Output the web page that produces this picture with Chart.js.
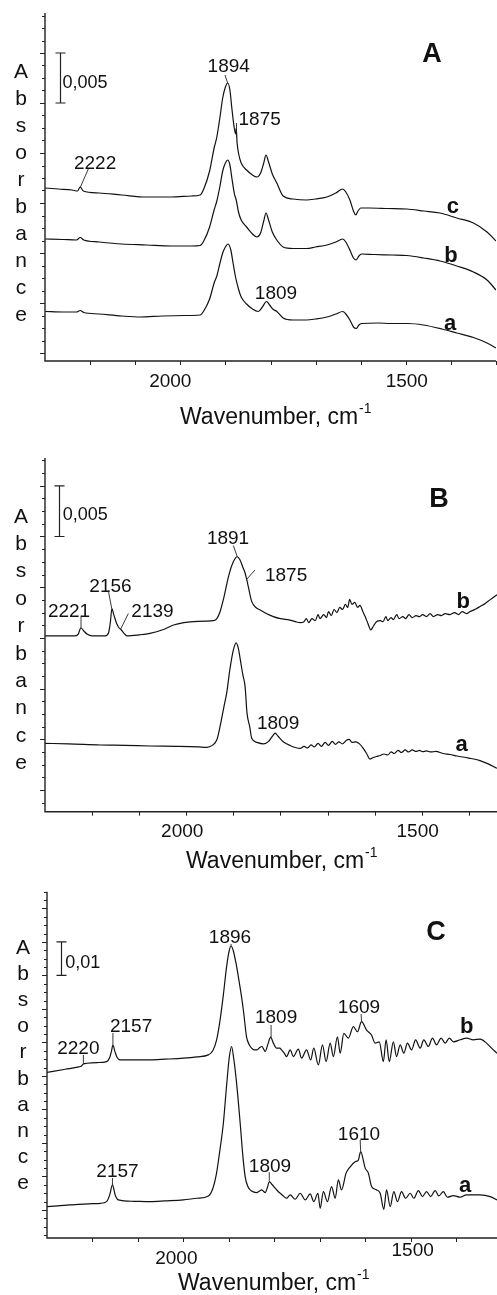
<!DOCTYPE html>
<html>
<head>
<meta charset="utf-8">
<script src="https://cdn.jsdelivr.net/npm/chart.js@4.4.0/dist/chart.umd.min.js"></script>
<style>
  body { margin: 0; background: #fff; width: 497px; height: 1295px; position: relative; overflow: hidden; }
  canvas { position: absolute; left: 0; }
</style>
</head>
<body>
<canvas id="chartA" width="497" height="440" style="top:0"></canvas>
<canvas id="chartB" width="497" height="435" style="top:440px"></canvas>
<canvas id="chartC" width="497" height="420" style="top:875px"></canvas>
<script>
// absorbance values are in mA (10^-3 absorbance units), wavenumbers in cm-1

// ---- panel A ----
const waveA_c = [2300,2270,2240,2228,2222,2215,2180,2130,2075,2020,1975,1956,1948,1935,1925,1919,1912,1906,1900,1895,1890,1886,1880,1877,1876,1874,1871,1865,1853,1840,1830,1822,1815,1810,1805,1796,1786,1772,1750,1720,1700,1675,1655,1640,1633,1624,1616,1611,1606,1600,1580,1540,1498,1460,1424,1387,1350,1320,1300];
const absA_c  = [16.5,16.4,16.3,16.2,16.6,16.2,16.0,15.8,15.6,15.6,15.7,15.8,16.4,18.2,20.5,21.6,23.6,25.5,26.6,27.0,26.3,24.6,22.4,21.9,22.5,21.0,20.0,19.0,18.3,17.8,17.6,18.0,19.0,19.8,19.2,17.9,17.0,15.7,15.4,15.3,15.4,15.6,16.0,16.4,16.1,15.3,14.2,13.8,14.2,14.5,14.5,14.45,14.4,14.2,14.0,13.5,13.0,12.1,11.2];
const waveA_b = [2300,2260,2230,2222,2214,2180,2130,2075,2020,1975,1956,1948,1935,1925,1919,1912,1906,1900,1895,1890,1886,1880,1876,1871,1865,1853,1840,1830,1822,1815,1810,1805,1796,1786,1772,1750,1720,1700,1675,1655,1640,1633,1624,1616,1610,1604,1598,1570,1530,1498,1460,1424,1387,1350,1320,1300];
const absA_b  = [11.4,11.35,11.3,11.55,11.3,11.1,10.9,10.8,10.7,10.7,10.75,11.2,12.6,14.3,15.2,16.7,18.2,19.0,19.3,18.8,17.6,15.9,15.3,14.1,13.3,12.6,11.9,11.6,12.0,13.2,14.0,13.4,12.1,11.3,10.6,10.45,10.45,10.6,10.8,11.1,11.4,11.1,10.3,9.5,9.3,9.7,9.9,9.85,9.8,9.75,9.5,9.2,8.7,8.1,7.3,6.3];
const waveA_a = [2300,2260,2230,2222,2214,2180,2130,2089,2040,1990,1956,1948,1935,1925,1919,1912,1906,1900,1894,1888,1883,1878,1871,1865,1853,1840,1827,1818,1809,1802,1795,1786,1772,1750,1720,1700,1675,1655,1640,1633,1624,1616,1610,1604,1598,1560,1535,1495,1461,1420,1387,1350,1320,1300];
const absA_a  = [4.15,4.1,4.1,4.25,4.05,3.9,3.7,3.6,3.7,3.75,3.8,4.2,5.4,7.0,7.7,9.0,10.0,10.6,10.9,10.3,9.0,7.7,6.4,5.6,4.9,4.4,4.15,4.6,5.15,4.8,4.4,4.15,3.5,3.3,3.3,3.4,3.6,3.9,4.15,3.9,3.3,2.6,2.45,2.8,2.95,3.0,2.95,2.95,2.8,2.4,2.0,1.55,1.0,0.5];

// ---- panel B ----
const waveB_b = [2300,2260,2236,2229,2224,2218,2210,2200,2172,2165,2161,2158,2154,2148,2143,2139,2133,2126,2100,2077,2050,2027,2005,1985,1960,1942,1935,1928,1920,1910,1900,1892,1886,1880,1875,1868,1861,1852,1843,1830,1815,1800,1780,1768,1758,1750,1745,1740,1733,1726,1720,1716,1708,1702,1698,1692,1686,1680,1674,1668,1662,1657,1653,1648,1642,1636,1631,1625,1620,1614,1608,1602,1596,1588,1582,1576,1572,1565,1560,1553,1548,1540,1534,1527,1520,1512,1505,1498,1490,1482,1475,1466,1458,1450,1440,1430,1422,1414,1405,1397,1385,1376,1365,1355,1340];
const absB_b  = [15.2,15.2,15.2,15.4,16.0,15.7,15.35,15.2,15.2,15.5,16.6,17.9,17.3,16.45,16.0,15.85,15.5,15.2,15.3,15.45,15.8,16.27,16.5,16.6,16.65,16.7,16.9,17.6,19.0,21.1,22.5,23.0,22.7,22.0,21.4,20.0,18.6,18.0,17.75,17.4,17.1,16.9,16.76,16.6,16.5,16.6,16.9,16.5,16.9,16.7,17.3,16.9,17.3,17.0,17.6,17.2,17.8,17.5,18.0,17.8,18.3,18.0,18.8,18.3,18.5,18.0,18.2,17.6,17.1,16.4,15.8,16.2,16.6,16.7,16.6,17.1,16.7,17.0,16.8,17.3,16.9,17.1,16.9,17.3,17.0,17.2,17.1,17.3,17.1,17.4,17.1,17.3,17.2,17.4,17.3,17.5,17.3,17.6,17.4,17.6,17.85,18.1,18.4,18.75,19.25];
const waveB_a = [2300,2250,2183,2130,2077,2020,1975,1956,1945,1935,1928,1920,1914,1907,1900,1894,1889,1885,1880,1875,1871,1865,1861,1850,1836,1825,1817,1811,1805,1794,1780,1758,1750,1742,1735,1728,1720,1713,1705,1698,1690,1683,1676,1668,1660,1654,1648,1640,1632,1624,1617,1610,1603,1596,1588,1580,1572,1565,1558,1550,1543,1535,1528,1520,1512,1505,1498,1490,1480,1470,1455,1440,1425,1400,1376,1360,1340];
const absB_a  = [4.6,4.55,4.44,4.4,4.34,4.3,4.25,4.21,4.4,4.95,6.3,8.2,9.6,12.0,13.8,14.5,13.9,12.8,11.4,10.2,7.6,6.2,5.1,4.7,4.55,4.8,5.3,5.6,5.3,4.76,4.4,4.1,4.3,4.15,4.45,4.25,4.6,4.3,4.7,4.4,4.8,4.5,4.75,4.55,4.9,5.0,4.7,4.75,4.55,4.1,3.6,3.05,3.2,3.3,3.4,3.55,3.45,3.75,3.6,3.9,3.7,3.95,3.75,3.95,3.8,3.9,3.78,3.85,3.75,3.8,3.6,3.5,3.35,3.15,2.9,2.6,2.14];

// ---- panel C ----
const waveC_b = [2300,2260,2230,2224,2220,2212,2190,2169,2162,2158,2155,2151,2146,2139,2110,2073,2040,2000,1970,1945,1935,1927,1920,1912,1905,1899,1895,1890,1884,1879,1873,1868,1861,1855,1850,1844,1838,1832,1827,1823,1820,1814,1808,1802,1795,1788,1784,1778,1773,1765,1758,1747,1740,1729,1720,1713,1703,1694,1686,1677,1670,1661,1655,1647,1637,1626,1617,1608,1597,1586,1578,1569,1560,1554,1547,1538,1531,1523,1515,1507,1498,1489,1479,1471,1461,1452,1443,1433,1424,1415,1406,1391,1377,1362,1347,1333,1322,1310];
const absC_b  = [41.1,42.0,42.7,43.0,43.6,43.8,44.0,44.3,45.5,47.5,49.2,47.5,45.6,44.8,44.8,44.8,45.0,45.3,45.7,46.3,47.6,50.7,56.0,64.2,72.5,77.5,78.8,77.3,73.5,69.6,64.5,59.7,51.7,49.3,48.3,47.8,47.8,48.5,48.8,47.9,47.3,49.5,51.6,49.8,48.3,48.3,47.8,46.8,45.8,47.8,45.8,48.0,45.3,47.8,44.8,48.3,43.3,49.3,44.3,49.8,45.8,51.7,46.8,52.7,51.3,54.7,53.2,56.2,53.7,52.2,49.8,50.2,44.3,50.8,44.3,50.2,45.8,49.3,46.8,49.8,47.8,50.8,48.3,50.8,48.8,51.3,49.3,51.3,49.8,51.3,50.2,50.8,51.3,50.8,51.0,49.8,48.3,46.8];
const waveC_a = [2300,2250,2200,2183,2169,2162,2156,2150,2143,2110,2073,2040,2000,1970,1945,1935,1927,1920,1912,1905,1899,1894,1889,1883,1875,1869,1864,1858,1853,1846,1839,1833,1828,1824,1820,1815,1811,1805,1798,1792,1787,1780,1773,1765,1754,1743,1732,1721,1713,1704,1699,1692,1683,1674,1666,1659,1652,1642,1633,1622,1615,1610,1600,1593,1586,1575,1567,1559,1553,1545,1537,1529,1520,1511,1501,1493,1483,1474,1465,1456,1446,1438,1428,1419,1406,1391,1377,1347,1325,1310];
const absC_a  = [1.0,1.5,1.9,2.0,2.5,4.5,7.5,4.5,3.0,2.6,2.5,2.7,3.0,3.5,4.2,6.5,11.0,17.5,25.9,37.0,45.5,48.8,45.0,38.0,25.9,16.0,9.9,7.0,6.0,5.4,5.2,5.6,6.0,5.6,5.2,6.8,8.45,7.6,6.5,5.6,5.0,4.2,3.5,4.5,3.2,5.0,3.0,4.8,2.5,5.0,0.5,5.5,2.5,7.0,3.5,9.0,6.0,11.0,12.9,14.4,14.9,17.4,12.5,11.0,7.0,6.0,5.0,0.2,6.0,1.0,5.5,2.5,5.5,3.5,5.0,3.5,5.8,4.0,5.5,4.0,5.8,4.2,5.5,3.8,4.3,3.8,4.5,4.5,4.0,3.0];

// tick labels on the wavenumber axis
const xTickLabels = [2000, 1500];

const FONT = "'Liberation Sans', Arial, sans-serif";

const panels = [
  {
    id: 'chartA', letter: 'A', xMin: 1300, yMin: -0.8, yMax: 34.0, yMajor: 5, yMinor: 1.25,
    pad: { left: 45, right: 1, top: 13, bottom: 79 },
    curves: [[waveA_c, absA_c], [waveA_b, absA_b], [waveA_a, absA_a]],
    letterPos: [1441.8, 29.1],
    curveNames: [['c', 1395.4, 14.0], ['b', 1399.8, 9.1], ['a', 1402, 2.3]],
    peaks: [
      ['1894', 1892.7, 28.1, [1900.9, 27.8, 1895, 27.0]],
      ['1875', 1824, 22.8, [1875.4, 23.0, 1875.4, 21.6]],
      ['2222', 2189, 18.45, [2204, 18.4, 2222.4, 16.5]],
      ['1809', 1787.8, 5.45, null]
    ],
    bar: { w: 2266.7, from: 30, to: 25, text: '0,005', tw: 2261, tv: 26.5 },
    absorb: { x: 21, y0: 77.5, step: 27 },
    tickDx: { 2000: -10, 1500: 1 }, tickDy: { 2000: 25.5, 1500: 25.5 }, titleX: 180, titleDy: 63
  },
  {
    id: 'chartB', letter: 'B', xMin: 1340, yMin: -2.14, yMax: 32.74, yMajor: 5, yMinor: 1.25,
    pad: { left: 45, right: 0, top: 18, bottom: 63.3 },
    curves: [[waveB_b, absB_b], [waveB_a, absB_a]],
    letterPos: [1463, 27.9],
    curveNames: [['b', 1412, 17.9], ['a', 1415, 3.8]],
    peaks: [
      ['1891', 1911.3, 24.3, [1900, 24.1, 1891.6, 23.0]],
      ['1875', 1788, 20.6, [1854, 21.7, 1873, 20.7]],
      ['2156', 2161, 19.5, [2165.6, 19.7, 2158.3, 17.9]],
      ['2221', 2249, 17.1, [2223.5, 17.2, 2223.5, 16.0]],
      ['2139', 2071.7, 17.1, [2123, 17.4, 2139, 15.9]],
      ['1809', 1805, 6.06, null]
    ],
    bar: { w: 2269.6, from: 30, to: 25, text: '0,005', tw: 2262.4, tv: 26.6 },
    absorb: { x: 21, y0: 82.5, step: 27.4 },
    tickDx: { 2000: -4, 1500: -4 }, tickDy: { 2000: 25, 1500: 25 }, titleX: 186, titleDy: 56
  },
  {
    id: 'chartC', letter: 'C', xMin: 1310, yMin: -8.36, yMax: 95.0, yMajor: 10, yMinor: 2.5,
    pad: { left: 47, right: 0, top: 16.7, bottom: 57 },
    curves: [[waveC_b, absC_b], [waveC_a, absC_a]],
    letterPos: [1444.2, 80.6],
    curveNames: [['b', 1376.7, 52.7], ['a', 1380, 5.5]],
    peaks: [
      ['1896', 1897.4, 79.7, [1895, 79.4, 1895, 78.9]],
      ['2220', 2231, 46.7, [2220, 46.3, 2220, 43.6]],
      ['2157', 2115, 53.2, [2155, 52.8, 2155, 49.3]],
      ['2157', 2145, 9.9, [2156, 9.55, 2156, 7.5]],
      ['1809', 1796, 55.7, [1807, 55.2, 1807, 51.6]],
      ['1809', 1809.4, 11.4, [1811, 11.3, 1811, 8.7]],
      ['1609', 1613.6, 58.7, [1609, 58.5, 1608, 56.4]],
      ['1610', 1613.6, 20.9, [1611, 20.9, 1610, 17.6]]
    ],
    bar: { w: 2269, from: 80, to: 70, text: '0,01', tw: 2260, tv: 72.2 },
    absorb: { x: 23, y0: 79, step: 26.1 },
    // the 1500 label sits higher than 2000 in this panel
    tickDx: { 2000: -7, 1500: 2 }, tickDy: { 2000: 26.3, 1500: 18 }, titleX: 178, titleDy: 52
  }
];

// axes, ticks and all the text of the figure
function framePlugin(p) {
  return {
    id: 'frame' + p.letter,
    afterDatasetsDraw(chart) {
      const { ctx, chartArea: ca, scales: { x, y } } = chart;
      const px = w => x.getPixelForValue(w);
      const py = v => y.getPixelForValue(v);
      ctx.save();
      ctx.strokeStyle = '#222';
      ctx.fillStyle = '#111';

      // axis lines
      ctx.lineWidth = 1.4;
      ctx.beginPath();
      ctx.moveTo(ca.left, ca.top);
      ctx.lineTo(ca.left, ca.bottom);
      ctx.lineTo(ca.right, ca.bottom);
      ctx.stroke();

      // y ticks, pointing out
      ctx.lineWidth = 1;
      const per = Math.round(p.yMajor / p.yMinor);
      for (let k = Math.ceil(p.yMin / p.yMinor); k * p.yMinor <= p.yMax; k++) {
        const yy = Math.round(py(k * p.yMinor)) + 0.5;
        const len = k % per === 0 ? 5 : 3;
        ctx.beginPath();
        ctx.moveTo(ca.left - len, yy);
        ctx.lineTo(ca.left, yy);
        ctx.stroke();
      }
      // x ticks every 100 cm-1
      for (let w = 2200; w >= p.xMin; w -= 100) {
        const xx = Math.round(px(w)) + 0.5;
        ctx.beginPath();
        ctx.moveTo(xx, ca.bottom);
        ctx.lineTo(xx, ca.bottom + 4);
        ctx.stroke();
      }
      ctx.font = '19px ' + FONT;
      ctx.textAlign = 'center';
      ctx.textBaseline = 'alphabetic';
      xTickLabels.forEach(w => {
        ctx.fillText(String(w), px(w) + p.tickDx[w], ca.bottom + p.tickDy[w]);
      });

      // axis title with superscript
      const tb = ca.bottom + p.titleDy;
      ctx.textAlign = 'left';
      ctx.font = '23px ' + FONT;
      const main = 'Wavenumber, cm';
      ctx.fillText(main, p.titleX, tb);
      const mw = ctx.measureText(main).width;
      ctx.font = '14px ' + FONT;
      ctx.fillText('-1', p.titleX + mw + 1, tb - 11);

      // "Absorbance" stacked letter by letter
      ctx.font = '21px ' + FONT;
      ctx.textAlign = 'center';
      'Absorbance'.split('').forEach((ch, i) => {
        ctx.fillText(ch, p.absorb.x, p.absorb.y0 + i * p.absorb.step);
      });

      // scale bar
      const bx = Math.round(px(p.bar.w)) + 0.5;
      const b1 = py(p.bar.from), b2 = py(p.bar.to);
      ctx.lineWidth = 1.2;
      ctx.beginPath();
      ctx.moveTo(bx, b1); ctx.lineTo(bx, b2);
      ctx.moveTo(bx - 5, b1); ctx.lineTo(bx + 5, b1);
      ctx.moveTo(bx - 5, b2); ctx.lineTo(bx + 5, b2);
      ctx.stroke();
      ctx.font = '18px ' + FONT;
      ctx.textAlign = 'left';
      ctx.fillText(p.bar.text, px(p.bar.tw), py(p.bar.tv));

      // peak positions with leader lines
      ctx.font = '19px ' + FONT;
      ctx.textAlign = 'center';
      ctx.lineWidth = 0.9;
      p.peaks.forEach(([t, w, v, lead]) => {
        ctx.fillText(t, px(w), py(v));
        if (lead) {
          ctx.beginPath();
          ctx.moveTo(px(lead[0]), py(lead[1]));
          ctx.lineTo(px(lead[2]), py(lead[3]));
          ctx.stroke();
        }
      });

      // curve names and panel letter
      ctx.font = 'bold 22px ' + FONT;
      p.curveNames.forEach(([t, w, v]) => ctx.fillText(t, px(w), py(v)));
      ctx.font = 'bold 27px ' + FONT;
      ctx.fillText(p.letter, px(p.letterPos[0]), py(p.letterPos[1]));
      ctx.restore();
    }
  };
}

panels.forEach(p => {
  new Chart(document.getElementById(p.id), {
    type: 'line',
    data: {
      datasets: p.curves.map(([waves, vals]) => ({
        data: waves.map((w, i) => ({ x: w, y: vals[i] })),
        borderColor: '#111',
        borderWidth: 1.2,
        pointRadius: 0,
        fill: false,
        cubicInterpolationMode: 'monotone'
      }))
    },
    options: {
      responsive: false,
      animation: false,
      events: [],
      layout: { padding: p.pad },
      plugins: { legend: { display: false }, tooltip: { enabled: false } },
      scales: {
        x: { type: 'linear', display: false, reverse: true, min: p.xMin, max: 2300 },
        y: { type: 'linear', display: false, min: p.yMin, max: p.yMax }
      }
    },
    plugins: [framePlugin(p)]
  });
});
</script>
</body>
</html>
